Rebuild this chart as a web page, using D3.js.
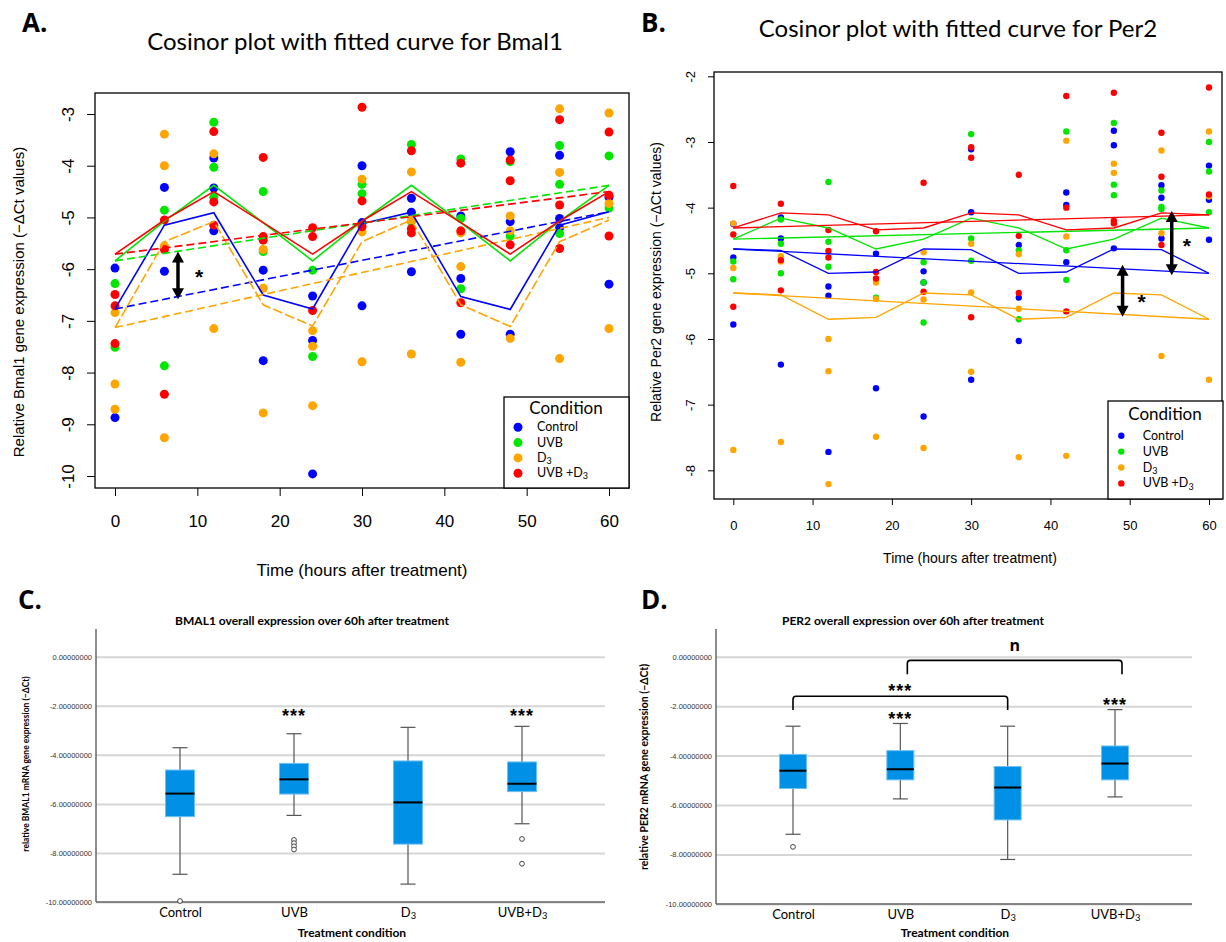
<!DOCTYPE html>
<html>
<head>
<meta charset="utf-8">
<script src="https://cdn.jsdelivr.net/npm/d3@7"></script>
<style>
  body { margin: 0; background: #fff; }
  svg { display: block; }
</style>
</head>
<body>
<svg id="fig" width="1226" height="942"></svg>
<script>
// ---- shared categories ----
const times = [0, 6, 12, 18, 24, 30, 36, 42, 48, 54, 60];
const conditions = ["Control", "UVB", "D3", "UVB+D3"];
const legendLabels = ["Control", "UVB", "D3", "UVB +D3"];
const condColors = ["#0000ff", "#00e600", "#ffa500", "#ff0000"];

// ---- Bmal1 observations (-dCt), one list per time point ----
const bmalControl = [[-5.98,-8.87],[-4.42,-6.04],[-3.85,-4.43,-5.26],[-6.02,-7.77],[-6.52,-7.38,-9.96],[-4.0,-5.1,-6.71],[-4.63,-4.9,-6.05],[-4.97,-6.18,-7.26],[-3.73,-5.08,-7.26],[-3.8,-5.02,-5.2],[-4.61,-6.29]];
const bmalUVB = [[-6.28,-7.51],[-4.86,-7.87],[-3.16,-4.03,-4.61],[-4.5,-5.66],[-6.02,-7.69],[-4.36,-4.54],[-3.59,-5.08],[-3.87,-5.02,-6.38],[-3.92,-5.36],[-3.61,-4.36,-5.31],[-3.81,-4.82]];
const bmalD3 = [[-6.84,-8.22,-8.71],[-3.39,-4.0,-5.55,-9.26],[-3.77,-7.15],[-5.62,-6.37,-8.78],[-7.19,-7.49,-8.64],[-4.26,-5.28,-7.79],[-4.12,-5.05,-7.64],[-5.3,-5.95,-7.8],[-4.97,-5.26,-7.34],[-2.9,-4.13,-7.73],[-2.98,-4.73,-7.15]];
const bmalUVBD3 = [[-6.49,-6.71,-7.44],[-5.05,-5.62,-8.42],[-3.34,-4.7,-5.15],[-3.84,-5.37,-5.44],[-5.2,-5.37,-6.8],[-2.87,-4.68,-5.18],[-3.71,-5.22,-5.3],[-3.95,-5.26,-6.65],[-3.89,-4.29,-5.53],[-3.11,-4.76,-5.6],[-3.35,-4.57,-5.36]];

// fitted cosinor curve at each time point, and the trend line ends
const bmalFitControl = [-6.77,-5.15,-4.91,-6.5,-6.77,-5.12,-4.9,-6.53,-6.78,-5.15,-4.89];
const bmalFitUVB = [-5.84,-5.07,-4.38,-5.1,-5.84,-5.07,-4.38,-5.1,-5.84,-5.07,-4.38];
const bmalFitD3 = [-7.13,-5.47,-5.08,-6.69,-7.1,-5.47,-5.05,-6.69,-7.11,-5.47,-5.05];
const bmalFitUVBD3 = [-5.71,-5.05,-4.5,-5.1,-5.71,-5.07,-4.5,-5.1,-5.71,-5.07,-4.5];
const bmalTrendStart = [-6.77, -5.84, -7.13, -5.71];
const bmalTrendEnd = [-4.89, -4.38, -5.0, -4.5];
const bmalYTicks = [-10, -9, -8, -7, -6, -5, -4, -3];

// ---- Per2 observations ----
const perControl = [[-4.25,-4.76,-5.78],[-4.15,-4.47,-6.39],[-5.2,-5.34,-7.72],[-4.7,-6.75],[-4.97,-5.14,-7.18],[-3.11,-4.07,-6.62],[-4.57,-5.37,-6.03],[-3.77,-3.96,-4.83],[-2.83,-3.05,-4.62],[-3.66,-3.85,-4.47],[-3.36,-3.88,-4.49]];
const perUVB = [[-4.82,-5.09],[-4.18,-4.55,-5.0],[-3.61,-4.52,-4.9],[-5.37],[-4.83,-5.14,-5.75],[-2.88,-4.47,-4.81],[-4.65,-5.7],[-2.84,-4.65,-5.1],[-2.71,-3.65,-3.81],[-3.74,-3.99,-4.02],[-3.0,-3.45,-4.07]];
const perD3 = [[-4.24,-4.92,-7.69],[-4.74,-4.82,-7.57],[-6.0,-6.49,-8.21],[-5.14,-5.39,-7.49],[-4.68,-5.4,-7.66],[-4.55,-5.29,-6.5],[-4.71,-5.54,-7.8],[-2.98,-4.44,-7.78],[-3.33,-3.47],[-3.13,-4.39,-6.26],[-2.84,-3.83,-6.62]];
const perUVBD3 = [[-3.67,-4.41,-5.51],[-3.94,-4.8,-5.26],[-4.34,-4.66,-4.76],[-4.36,-4.98,-5.08],[-3.62,-5.28],[-3.08,-3.24,-5.67],[-3.5,-4.43,-5.3],[-2.3,-4.0,-5.58],[-2.25,-4.2,-4.24],[-2.86,-3.53,-4.57],[-2.17,-3.8]];

const perFitControl = [-4.63,-4.65,-5.0,-4.98,-4.63,-4.64,-5.0,-4.98,-4.63,-4.64,-5.0];
const perFitUVB = [-4.48,-4.16,-4.31,-4.63,-4.48,-4.16,-4.31,-4.63,-4.48,-4.16,-4.31];
const perFitD3 = [-5.3,-5.33,-5.7,-5.67,-5.3,-5.33,-5.7,-5.67,-5.3,-5.33,-5.7];
const perFitUVBD3 = [-4.31,-4.08,-4.11,-4.34,-4.31,-4.08,-4.11,-4.34,-4.31,-4.08,-4.11];
const perTrendStart = [-4.63, -4.48, -5.3, -4.31];
const perTrendEnd = [-5.0, -4.31, -5.7, -4.11];
const perYTicks = [-8, -7, -6, -5, -4, -3, -2];

// ---- box plot summaries (C: BMAL1, D: PER2) ----
const bmalLow = [-8.87, -6.47, -9.27, -6.81];
const bmalQ1 = [-6.52, -5.6, -7.64, -5.5];
const bmalMedian = [-5.58, -5.0, -5.94, -5.18];
const bmalQ3 = [-4.62, -4.35, -4.25, -4.29];
const bmalHigh = [-3.71, -3.14, -2.88, -2.84];
const bmalOutliers = [[-9.96], [-7.47, -7.6, -7.73, -7.86], [], [-7.43, -8.44]];

const perLow = [-7.18, -5.75, -8.2, -5.67];
const perQ1 = [-5.33, -4.98, -6.6, -4.98];
const perMedian = [-4.61, -4.55, -5.29, -4.32];
const perQ3 = [-3.95, -3.8, -4.44, -3.61];
const perHigh = [-2.81, -2.7, -2.81, -2.14];
const perOutliers = [[-7.69], [], [], []];

const boxTicks = [0, -2, -4, -6, -8, -10];

const svg = d3.select("#fig");

// writes "D3" with a subscript 3
function addLabel(sel, str) {
    const i = str.indexOf("D3");
    if (i < 0) { sel.text(str); return; }
    sel.append("tspan").text(str.slice(0, i + 1));
    sel.append("tspan").attr("dy", "0.25em").attr("font-size", "72%").text("3");
}

function panelLetter(txt, x, y) {
    svg.append("text")
        .attr("x", x).attr("y", y)
        .attr("font-family", "Open Sans").attr("font-weight", "bold")
        .attr("font-size", "26px")
        .text(txt);
}

//cosinor scatter panels
function cosinor(p) {
    const g = svg.append("g");
    const x = d3.scaleLinear().domain([0, 60]).range(p.xRange);
    const y = d3.scaleLinear().domain(p.yDomain).range(p.yRange);
    const [bl, bt, br, bb] = p.box;

    //points
    p.points.forEach((arr, ci) => {
        const flat = [];
        arr.forEach((vals, ti) => vals.forEach(v => flat.push([times[ti], v])));
        g.append("g").selectAll("circle")
            .data(flat)
            .enter().append("circle")
            .attr("cx", d => x(d[0]))
            .attr("cy", d => y(d[1]))
            .attr("r", p.r)
            .attr("fill", condColors[ci]);
    });

    //fitted curves and trend lines
    const line = d3.line().x(d => x(d[0])).y(d => y(d[1]));
    p.fits.forEach((fit, ci) => {
        g.append("path")
            .attr("d", line(fit.map((v, i) => [times[i], v])))
            .attr("fill", "none")
            .attr("stroke", condColors[ci])
            .attr("stroke-width", p.lw)
            .attr("stroke-dasharray", p.fitDash[ci]);
        g.append("path")
            .attr("d", line([[0, p.trendStart[ci]], [60, p.trendEnd[ci]]]))
            .attr("fill", "none")
            .attr("stroke", condColors[ci])
            .attr("stroke-width", p.lw)
            .attr("stroke-dasharray", p.trendDash);
    });

    //box
    g.append("rect")
        .attr("x", bl).attr("y", bt)
        .attr("width", br - bl).attr("height", bb - bt)
        .attr("fill", "none").attr("stroke", "#000").attr("stroke-width", 1.3);

    //x axis
    const xa = g.append("g")
        .attr("transform", "translate(0," + bb + ")")
        .call(d3.axisBottom(x).tickValues(d3.range(0, 61, 10)).tickSize(p.tick).tickPadding(p.xPad));
    xa.select(".domain").remove();
    xa.selectAll("text").attr("font-family", "Liberation Sans").attr("font-size", p.tickFont).attr("fill", "#000");

    //y axis, labels parallel to axis
    const ya = g.append("g")
        .attr("transform", "translate(" + bl + ",0)")
        .call(d3.axisLeft(y).tickValues(p.yTicks).tickSize(p.tick).tickFormat(d => String(d)));
    ya.select(".domain").remove();
    ya.selectAll("text")
        .attr("x", null).attr("dy", null)
        .attr("text-anchor", "middle")
        .attr("transform", "translate(" + (-p.yOff) + ",0) rotate(-90)")
        .attr("font-family", "Liberation Sans").attr("font-size", p.tickFont).attr("fill", "#000");

    //titles
    g.append("text")
        .attr("x", p.title[1]).attr("y", p.title[2])
        .attr("text-anchor", "middle")
        .attr("font-family", "Lato").attr("font-size", p.title[3])
        .text(p.title[0]);
    g.append("text")
        .attr("x", p.xTitle[1]).attr("y", p.xTitle[2])
        .attr("text-anchor", "middle")
        .attr("font-family", "Liberation Sans").attr("font-size", p.xTitle[3])
        .text(p.xTitle[0]);
    g.append("text")
        .attr("transform", "translate(" + p.yTitle[1] + "," + p.yTitle[2] + ") rotate(-90)")
        .attr("text-anchor", "middle")
        .attr("font-family", "Liberation Sans").attr("font-size", p.yTitle[3])
        .text(p.yTitle[0]);

    //significance arrows
    p.arrows.forEach(a => {
        const cx = x(a.t), y1 = y(a.top), y2 = y(a.bottom);
        const hw = 6, hl = 11;
        g.append("line")
            .attr("x1", cx).attr("x2", cx)
            .attr("y1", y1 + hl - 1).attr("y2", y2 - hl + 1)
            .attr("stroke", "#000").attr("stroke-width", 3.5);
        g.append("path")
            .attr("d", `M${cx},${y1}L${cx - hw},${y1 + hl}L${cx + hw},${y1 + hl}Z M${cx},${y2}L${cx - hw},${y2 - hl}L${cx + hw},${y2 - hl}Z`)
            .attr("fill", "#000");
        g.append("text")
            .attr("x", x(a.starT)).attr("y", y(a.starV) + 11)
            .attr("text-anchor", "middle")
            .attr("font-family", "Liberation Sans").attr("font-weight", "bold")
            .attr("font-size", "21px")
            .text("*");
    });

    //legend
    const L = p.legend;
    const lg = g.append("g");
    lg.append("rect")
        .attr("x", L.x).attr("y", L.y).attr("width", L.w).attr("height", L.h)
        .attr("fill", "#fff").attr("stroke", "#000").attr("stroke-width", 1.3);
    lg.append("text")
        .attr("x", L.titleX).attr("y", L.titleY)
        .attr("text-anchor", "middle")
        .attr("font-family", "Lato").attr("font-size", "17px")
        .text("Condition");
    legendLabels.forEach((lab, i) => {
        const cy = L.row0 + i * L.step;
        lg.append("circle").attr("cx", L.dotX).attr("cy", cy).attr("r", p.r).attr("fill", condColors[i]);
        const t = lg.append("text")
            .attr("x", L.textX).attr("y", cy + 4)
            .attr("font-family", "Lato").attr("font-size", "12.5px");
        addLabel(t, lab);
    });
}

//box plot panels
function boxPanel(p) {
    const g = svg.append("g");
    const x = d3.scalePoint().domain(conditions).range(p.xRange);
    const y = d3.scaleLinear().domain([-10, 0]).range(p.yRange);

    //grid via axis
    const ya = g.append("g")
        .attr("transform", "translate(" + p.left + ",0)")
        .call(d3.axisLeft(y).tickValues(boxTicks).tickSizeInner(-(p.right - p.left)).tickSizeOuter(0)
            .tickPadding(4).tickFormat(d => d.toFixed(8)));
    ya.select(".domain").remove();
    ya.selectAll("line").attr("stroke", "#d6d6d6").attr("stroke-width", 2);
    ya.selectAll("text").attr("font-family", "Liberation Sans").attr("font-size", "7.5px").attr("fill", "#333");

    //frame
    g.append("line").attr("x1", p.left).attr("x2", p.left).attr("y1", p.top).attr("y2", y(-10))
        .attr("stroke", "#666").attr("stroke-width", 1.5);
    g.append("line").attr("x1", p.left).attr("x2", p.right).attr("y1", y(-10)).attr("y2", y(-10))
        .attr("stroke", "#666").attr("stroke-width", 1.5);

    //x axis labels
    const xa = g.append("g")
        .attr("transform", "translate(0," + y(-10) + ")")
        .call(d3.axisBottom(x).tickSize(0).tickPadding(6).tickFormat(""));
    xa.select(".domain").remove();
    xa.selectAll(".tick").each(function (d) {
        const t = d3.select(this).append("text")
            .attr("y", 15).attr("text-anchor", "middle")
            .attr("font-family", "Lato").attr("font-size", "13px").attr("fill", "#000");
        addLabel(t, d);
    });

    //whiskers and boxes
    const bw = p.boxW, cw = 15;
    conditions.forEach((c, i) => {
        const cx = x(c);
        g.append("line").attr("x1", cx).attr("x2", cx).attr("y1", y(p.high[i])).attr("y2", y(p.low[i]))
            .attr("stroke", "#555").attr("stroke-width", 1.2);
        [p.high[i], p.low[i]].forEach(v => {
            g.append("line").attr("x1", cx - cw / 2).attr("x2", cx + cw / 2).attr("y1", y(v)).attr("y2", y(v))
                .attr("stroke", "#555").attr("stroke-width", 1.2);
        });
        g.append("rect")
            .attr("x", cx - bw / 2).attr("y", y(p.q3[i]))
            .attr("width", bw).attr("height", y(p.q1[i]) - y(p.q3[i]))
            .attr("fill", "#0090e6").attr("stroke", "#6cc0f2").attr("stroke-width", 1);
        g.append("line").attr("x1", cx - bw / 2).attr("x2", cx + bw / 2)
            .attr("y1", y(p.median[i])).attr("y2", y(p.median[i]))
            .attr("stroke", "#000").attr("stroke-width", 2);
        g.selectAll(null).data(p.outliers[i]).enter().append("circle")
            .attr("cx", cx).attr("cy", v => y(v)).attr("r", 2.4)
            .attr("fill", "#fff").attr("stroke", "#333").attr("stroke-width", 0.9);
    });

    //stars over groups
    p.stars.forEach((s, i) => {
        g.append("text")
            .attr("x", x(s)).attr("y", y(p.starV[i]) + 10)
            .attr("text-anchor", "middle")
            .attr("font-family", "Liberation Sans").attr("font-weight", "bold")
            .attr("font-size", "18px").attr("letter-spacing", "1px")
            .text("***");
    });

    //comparison brackets
    (p.brackets || []).forEach(b => {
        const x1 = x(b.from) + b.shift, x2 = x(b.to) + b.shift;
        const yl = y(b.level), yg = y(b.leg);
        g.append("path")
            .attr("d", `M${x1},${yg}V${yl + 3}Q${x1},${yl} ${x1 + 3},${yl}H${x2 - 3}Q${x2},${yl} ${x2},${yl + 3}V${yg}`)
            .attr("fill", "none").attr("stroke", "#000").attr("stroke-width", 1.6);
        const isN = b.label === "n";
        g.append("text")
            .attr("x", (x1 + x2) / 2).attr("y", y(b.labelV) + b.base)
            .attr("text-anchor", "middle")
            .attr("font-family", isN ? "Open Sans" : "Liberation Sans")
            .attr("font-weight", "bold")
            .attr("font-size", isN ? "16px" : "18px").attr("letter-spacing", isN ? "0" : "1px")
            .text(b.label);
    });

    //titles
    g.append("text")
        .attr("x", p.title[1]).attr("y", p.title[2])
        .attr("text-anchor", "middle")
        .attr("font-family", "Lato").attr("font-weight", "bold").attr("font-size", "12px")
        .text(p.title[0]);
    g.append("text")
        .attr("x", p.xTitleX).attr("y", 937)
        .attr("text-anchor", "middle")
        .attr("font-family", "Lato").attr("font-weight", "bold").attr("font-size", "12px")
        .text("Treatment condition");
    g.append("text")
        .attr("transform", "translate(" + p.yTitle[1] + "," + p.yTitle[2] + ") rotate(-90)")
        .attr("text-anchor", "middle")
        .attr("font-family", "Lato").attr("font-weight", "bold").attr("font-size", p.yTitle[3])
        .text(p.yTitle[0]);
}

// ---- A ----
cosinor({
    xRange: [115, 609], yDomain: [-10, -3], yRange: [476, 114], yTicks: bmalYTicks,
    box: [95, 93, 629, 488], tick: 8, xPad: 19, tickFont: "17px", yOff: 21, r: 4.5, lw: 1.6,
    points: [bmalControl, bmalUVB, bmalD3, bmalUVBD3],
    fits: [bmalFitControl, bmalFitUVB, bmalFitD3, bmalFitUVBD3],
    fitDash: [null, null, "10,3", null], trendDash: "8,4",
    trendStart: bmalTrendStart, trendEnd: bmalTrendEnd,
    title: ["Cosinor plot with fitted curve for Bmal1", 355, 50, "24px"],
    xTitle: ["Time (hours after treatment)", 362, 576, "17px"],
    yTitle: ["Relative Bmal1 gene expression (\u2212\u0394Ct values)", 24, 302, "15px"],
    arrows: [{ t: 7.65, top: -5.66, bottom: -6.58, starT: 10.2, starV: -6.08 }],
    legend: { x: 504, y: 397, w: 125, h: 91, titleX: 566, titleY: 414, row0: 427.3, step: 15.3, dotX: 518, textX: 537 }
});

// ---- B ----
cosinor({
    xRange: [733.3, 1209], yDomain: [-8, -2], yRange: [470.3, 76.3], yTicks: perYTicks,
    box: [714, 72, 1222, 499], tick: 6, xPad: 16, tickFont: "13px", yOff: 19, r: 3.2, lw: 1.3,
    points: [perControl, perUVB, perD3, perUVBD3],
    fits: [perFitControl, perFitUVB, perFitD3, perFitUVBD3],
    fitDash: [null, null, null, null], trendDash: null,
    trendStart: perTrendStart, trendEnd: perTrendEnd,
    title: ["Cosinor plot with fitted curve for Per2", 958, 37, "24px"],
    xTitle: ["Time (hours after treatment)", 970, 563, "14px"],
    yTitle: ["Relative Per2 gene expression (\u2212\u0394Ct values)", 661, 282, "14px"],
    arrows: [
        { t: 49.1, top: -4.87, bottom: -5.66, starT: 51.5, starV: -5.38 },
        { t: 55.3, top: -4.05, bottom: -5.03, starT: 57.2, starV: -4.52 }
    ],
    legend: { x: 1108, y: 401, w: 115, h: 98, titleX: 1165, titleY: 420, row0: 435.7, step: 15.9, dotX: 1121.3, textX: 1142.7 }
});

// ---- C ----
boxPanel({
    xRange: [180, 522], yRange: [902, 656.7], left: 96, right: 605, top: 629, boxW: 29,
    low: bmalLow, q1: bmalQ1, median: bmalMedian, q3: bmalQ3, high: bmalHigh, outliers: bmalOutliers,
    stars: ["UVB", "UVB+D3"], starV: [-2.27, -2.27],
    title: ["BMAL1 overall expression over 60h after treatment", 312, 625],
    xTitleX: 352,
    yTitle: ["relative BMAL1 mRNA gene expression (\u2212\u0394Ct)", 29, 764, "8.5px"]
});

// ---- D ----
boxPanel({
    xRange: [793, 1115], yRange: [904, 656.7], left: 716, right: 1192, top: 629, boxW: 27,
    low: perLow, q1: perQ1, median: perMedian, q3: perQ3, high: perHigh, outliers: perOutliers,
    stars: ["UVB", "UVB+D3"], starV: [-2.36, -1.78],
    brackets: [
        { from: "Control", to: "D3", level: -1.6, leg: -2.16, label: "***", labelV: -1.21, base: 10, shift: 0 },
        { from: "UVB", to: "UVB+D3", level: -0.15, leg: -0.71, label: "n", labelV: 0.47, base: 6, shift: 7 }
    ],
    title: ["PER2 overall expression over 60h after treatment", 913, 625],
    xTitleX: 955,
    yTitle: ["relative PER2 mRNA gene expression (\u2212\u0394Ct)", 648, 767, "10.5px"]
});

panelLetter("A.", 22, 32);
panelLetter("B.", 641, 32);
panelLetter("C.", 18, 609);
panelLetter("D.", 641, 609);
</script>
</body>
</html>
